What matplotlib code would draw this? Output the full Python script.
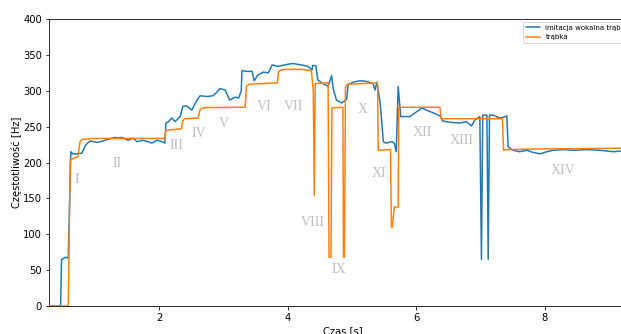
import numpy as np
import matplotlib.pyplot as plt

# czas [s] i czestotliwosc [Hz] - imitacja wokalna
t_glos = [0.29, 0.47, 0.485, 0.51, 0.55, 0.58, 0.59, 0.63, 0.66, 0.72, 0.80, 0.865, 0.93,
          1.04, 1.13, 1.19, 1.32, 1.36, 1.42, 1.52, 1.60, 1.66, 1.75, 1.83, 1.89, 1.97,
          2.05, 2.09, 2.11, 2.15, 2.20, 2.25, 2.33, 2.37, 2.43, 2.51, 2.59, 2.64, 2.75,
          2.84, 2.90, 2.95, 3.03, 3.10, 3.18, 3.24, 3.28, 3.29, 3.37, 3.45, 3.48, 3.54,
          3.62, 3.70, 3.76, 3.85, 4.01, 4.08, 4.22, 4.32, 4.38, 4.39, 4.44, 4.47, 4.55,
          4.63, 4.685, 4.71, 4.76, 4.84, 4.92, 4.94, 5.02, 5.13, 5.23, 5.33, 5.36, 5.39,
          5.44, 5.49, 5.53, 5.62, 5.66, 5.69, 5.72, 5.76, 5.79, 5.90, 5.98, 6.09, 6.16,
          6.27, 6.37, 6.41, 6.53, 6.68, 6.78, 6.86, 6.91, 6.99, 7.015, 7.035, 7.06, 7.10,
          7.12, 7.14, 7.20, 7.30, 7.36, 7.41, 7.43, 7.51, 7.61, 7.72, 7.82, 7.93, 8.03,
          8.13, 8.29, 8.44, 8.65, 8.86, 9.07, 9.18, 9.42]
f_glos = [0, 0, 65, 66, 68, 67, 69, 215, 212, 212, 213, 225, 230,
          228, 230, 232, 235, 234, 235, 231, 234, 229, 231, 229, 227, 231,
          229, 227, 255, 257, 262, 257, 264, 278, 279, 273, 287, 293, 292,
          293, 298, 303, 301, 287, 291, 290, 300, 328, 327, 327, 314, 322,
          326, 325, 336, 334, 337, 338, 336, 334, 329, 335, 335, 315, 310,
          306, 321, 303, 287, 283, 288, 308, 312, 314, 313, 310, 301, 312,
          283, 229, 227, 229, 227, 215, 306, 264, 264, 264, 269, 276, 273,
          269, 265, 258, 256, 255, 257, 251, 259, 264, 65, 266, 266, 266,
          65, 266, 266, 262, 263, 265, 222, 217, 215, 217, 214, 212, 215,
          217, 218, 217, 218, 217, 215, 216, 217]

# trabka
t_trab = [0.29, 0.59, 0.62, 0.74, 0.77, 0.80, 0.95, 2.09, 2.11, 2.35, 2.37, 2.40, 2.61,
          2.64, 2.70, 3.34, 3.36, 3.40, 3.84, 3.86, 3.92, 4.20, 4.37, 4.40, 4.415, 4.43,
          4.63, 4.645, 4.675, 4.69, 4.86, 4.87, 4.885, 4.90, 4.93, 5.40, 5.41, 5.60,
          5.615, 5.63, 5.66, 5.72, 5.73, 5.76, 6.37, 6.39, 7.34, 7.36, 7.42, 8.0, 9.42]
f_trab = [0, 0, 204, 208, 228, 232, 233.5, 233.5, 245, 247, 258, 261, 262,
          274, 276.5, 277, 306, 309, 311, 327, 329.5, 330, 328, 300, 154, 310,
          311, 68, 68, 276, 277, 68, 68, 305, 309, 311, 217, 218,
          110, 110, 138, 138, 276, 277, 277, 261, 261, 217, 218, 219, 220]

# oznaczenia fragmentow
etykiety = ['I', 'II', 'III', 'IV', 'V', 'VI', 'VII', 'VIII', 'IX', 'X', 'XI', 'XII', 'XIII', 'XIV']
et_t = [0.72, 1.35, 2.275, 2.62, 3.01, 3.63, 4.09, 4.40, 4.80, 5.17, 5.43, 6.10, 6.71, 8.29]
et_f = [176.6, 199, 224, 240, 254.6, 278.7, 278.7, 116, 51, 274, 185, 241.6, 230.4, 189.5]

fig = plt.figure(figsize=(621/72, 334/72), dpi=72)
ax = fig.add_axes([0.0789, 0.0838, 0.9454, 0.8593])

ax.plot(t_glos, f_glos, label='imitacja wokalna trąbka', zorder=3)
ax.plot(t_trab, f_trab, label='trąbka', zorder=3)

for e, x, y in zip(etykiety, et_t, et_f):
    ax.text(x, y, e, color='#c0c0c0', fontsize=14, family='Liberation Serif',
            ha='center', va='center')

ax.set_xlim(0.29, 9.42)
ax.set_ylim(0, 400)
ax.set_xticks([2, 4, 6, 8])
ax.set_yticks(np.arange(0, 401, 50))
ax.set_xlabel('Czas [s]', labelpad=3)
ax.set_ylabel('Częstotliwość [Hz]', labelpad=1)

ax.legend(loc='upper left', bbox_to_anchor=(523/621, 1 - 22/334),
          bbox_transform=fig.transFigure, borderaxespad=0, fontsize=7)

fig.savefig('out.png', dpi=72)
